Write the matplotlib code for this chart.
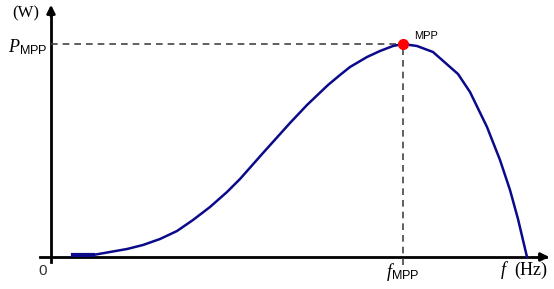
import matplotlib.pyplot as plt

# ==============================
# Datos de la curva (f, P)
# ==============================

f = [22, 42, 59, 76, 92, 109, 126, 142, 159, 176, 189, 212, 239, 256, 277, 289,
     299, 316, 329, 342, 352, 366, 382, 407, 419, 436, 449, 459, 467, 476]
P = [2, 2, 5, 8, 12, 18, 26, 37, 50, 65, 78, 104, 134, 152, 172, 182,
     190, 200, 206, 211, 213, 211, 205, 183, 165, 130, 97, 67, 38, 0]

f_mpp = 352
p_mpp = 213

plt.rcParams['mathtext.fontset'] = 'custom'
plt.rcParams['mathtext.rm'] = 'Liberation Serif'
plt.rcParams['mathtext.it'] = 'Liberation Serif:italic'
plt.rcParams['mathtext.sf'] = 'Liberation Sans'

fig = plt.figure(figsize=(5.54, 2.89), dpi=100)
ax = fig.add_axes([0, 0, 1, 1])
ax.set_xlim(-51, 503)
ax.set_ylim(-32, 257)
ax.axis('off')

# ejes con flechas
ax.plot([-11, 495], [0, 0], color='black', lw=2)
ax.annotate('', xy=(501, 0), xytext=(485, 0),
            arrowprops=dict(arrowstyle='-|>', color='black', lw=2, mutation_scale=12))
ax.plot([0, 0], [-5, 245], color='black', lw=2)
ax.annotate('', xy=(0, 255), xytext=(0, 238),
            arrowprops=dict(arrowstyle='-|>', color='black', lw=2, mutation_scale=12))

# lineas discontinuas hacia el MPP
ax.plot([0, f_mpp], [p_mpp, p_mpp], color='#444444', lw=1.2, ls=(0, (4, 3)))
ax.plot([f_mpp, f_mpp], [-8, p_mpp], color='#444444', lw=1.2, ls=(0, (4, 3)))

# curva
ax.plot(f, P, color='#0a0a8a', lw=1.8, solid_joinstyle='round')
ax.plot(f[:2], P[:2], color='#0a0a8a', lw=3)
ax.plot([f_mpp], [p_mpp], 'o', color='red', ms=7, zorder=5)

# textos
ax.text(-39, 244, '(W)', fontsize=12, family='Liberation Serif', va='center')
ax.text(-3, p_mpp - 3, r'$P_{\mathsf{MPP}}$', fontsize=13, ha='right', va='center')
ax.text(f_mpp + 11, p_mpp + 8, 'MPP', fontsize=8, family='Liberation Sans', va='center')
ax.text(-4, -14, '0', fontsize=11, family='Liberation Sans', ha='right', va='center', color='#333333')
ax.text(f_mpp, -15, r'$f_{\mathsf{MPP}}$', fontsize=13, ha='center', va='center')
ax.text(449, -13, r'$f$  (Hz)', fontsize=13, va='center', family='Liberation Serif')

fig.savefig('out.png', dpi=100)
plt.close()
